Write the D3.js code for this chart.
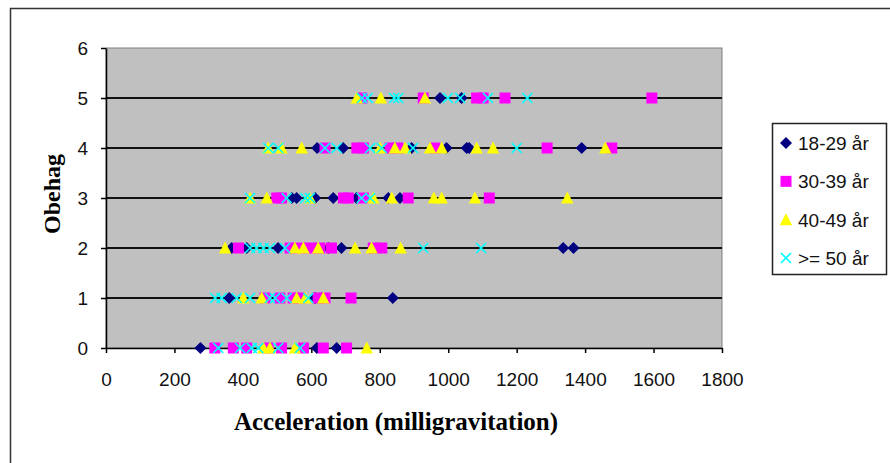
<!DOCTYPE html>
<html><head><meta charset="utf-8">
<script src="https://cdn.jsdelivr.net/npm/d3@7"></script>
<style>body{margin:0;background:#fff}svg{display:block}</style>
</head><body><svg id="c" width="890" height="463"></svg>
<script>
// Data: acceleration (milligravitation) values per discomfort level (Obehag 0..5)
const seriesNames = ["18-29 år", "30-39 år", "40-49 år", ">= 50 år"];
const xTicks = [0, 200, 400, 600, 800, 1000, 1200, 1400, 1600, 1800];
const yTicks = [0, 1, 2, 3, 4, 5, 6];
const age1829 = [
  [5, [976, 1039]],
  [4, [617, 693, 893, 995, 1054, 1061, 1390]],
  [3, [543, 557, 611, 664, 732, 825, 859]],
  [2, [367, 411, 503, 650, 688, 1336, 1366]],
  [1, [360, 611, 838]],
  [0, [276, 616, 674]]
];
const age3039 = [
  [5, [748, 927, 1083, 1102, 1166, 1595]],
  [4, [640, 733, 752, 830, 853, 961, 1289, 1478]],
  [3, [499, 513, 694, 708, 752, 883, 1120]],
  [2, [387, 538, 567, 596, 625, 659, 781, 806]],
  [1, [465, 508, 547, 567, 620, 640, 716]],
  [0, [318, 372, 411, 474, 513, 577, 635, 703]]
];
const age4049 = [
  [5, [733, 803, 932]],
  [4, [474, 513, 572, 801, 844, 874, 947, 981, 1083, 1131, 1459]],
  [3, [421, 470, 596, 781, 835, 958, 981, 1078, 1348]],
  [2, [348, 552, 577, 620, 728, 776, 861]],
  [1, [401, 455, 557, 582, 635]],
  [0, [460, 479, 552, 762]]
];
const age50 = [
  [5, [748, 765, 842, 854, 999, 1035, 1116, 1231]],
  [4, [474, 503, 640, 674, 772, 806, 897, 1200]],
  [3, [421, 528, 582, 596, 747, 772]],
  [2, [421, 440, 460, 479, 523, 927, 1096]],
  [1, [319, 338, 382, 421, 479, 494, 528, 591]],
  [0, [328, 392, 426, 445, 503, 567]]
];

const svg = d3.select("#c");
const x = d3.scaleLinear().domain([0, 1800]).range([106, 722]);
const y = d3.scaleLinear().domain([0, 6]).range([348, 48]);
const colors = ["#000080", "#ff00ff", "#ffff00", "#00ffff"];
const shapes = ["diamond", "square", "triangle", "cross"];

// outer chart border (left/top visible)
svg.append("path").attr("d", "M10.5,470 V8.5 H900").attr("fill", "none").attr("stroke", "#333").attr("stroke-width", 1.5);

// plot area
svg.append("rect").attr("x", x(0)).attr("y", y(6)).attr("width", x(1800) - x(0)).attr("height", y(0) - y(6))
  .attr("fill", "#c0c0c0").attr("stroke", "#808080").attr("stroke-width", 1);

// gridlines
svg.append("g").selectAll("line").data(yTicks.filter(d => d > 0 && d < 6)).join("line")
  .attr("x1", x(0)).attr("x2", x(1800)).attr("y1", d => y(d)).attr("y2", d => y(d))
  .attr("stroke", "#111").attr("stroke-width", 2);

// axes
const font = "'Liberation Sans', Arial, sans-serif";
const gx = svg.append("g").attr("transform", `translate(0,${y(0)})`)
  .call(d3.axisBottom(x).tickValues(xTicks).tickFormat(d3.format("d")).tickSize(5).tickPadding(20).tickSizeOuter(0));
const gy = svg.append("g").attr("transform", `translate(${x(0)},0)`)
  .call(d3.axisLeft(y).tickValues(yTicks).tickFormat(d3.format("d")).tickSize(5).tickPadding(13).tickSizeOuter(0));
[gx, gy].forEach(g => {
  g.select(".domain").attr("stroke", "#000").attr("stroke-width", 1.5);
  g.selectAll(".tick line").attr("stroke", "#000").attr("stroke-width", 1.5);
  g.selectAll(".tick text").attr("font-family", font).attr("font-size", 19).attr("fill", "#111");
});

function shapePath(s) {
  if (s === "diamond") return "M0,-6L6,0L0,6L-6,0Z";
  if (s === "square") return "M-5.5,-5.5H5.5V5.5H-5.5Z";
  if (s === "triangle") return "M0,-6.5L6.2,5.5L-6.2,5.5Z";
  return "M-5,-5L5,5M5,-5L-5,5";
}
function drawMarker(g, s, c) {
  const p = g.append("path").attr("d", shapePath(s));
  if (s === "cross") p.attr("fill", "none").attr("stroke", c).attr("stroke-width", 1.7);
  else p.attr("fill", c);
}

const allSeries = [age1829, age3039, age4049, age50];
allSeries.forEach((ser, i) => {
  const pts = [];
  ser.forEach(([lvl, vals]) => vals.forEach(v => pts.push({ v, lvl })));
  const g = svg.append("g");
  pts.forEach(p => {
    const m = g.append("g").attr("transform", `translate(${x(p.v)},${y(p.lvl)})`);
    drawMarker(m, shapes[i], colors[i]);
  });
});

// axis titles
svg.append("text").attr("x", 396).attr("y", 430).attr("text-anchor", "middle")
  .attr("font-family", "'Liberation Serif', 'Times New Roman', serif").attr("font-weight", "bold")
  .attr("font-size", 25).attr("fill", "#000").text("Acceleration (milligravitation)");
svg.append("text").attr("transform", "translate(60,194) rotate(-90)").attr("text-anchor", "middle")
  .attr("font-family", "'Liberation Serif', 'Times New Roman', serif").attr("font-weight", "bold")
  .attr("font-size", 24).attr("fill", "#000").text("Obehag");

// legend
const lg = svg.append("g");
lg.append("rect").attr("x", 772.5).attr("y", 123.5).attr("width", 114).attr("height", 151)
  .attr("fill", "#fff").attr("stroke", "#222").attr("stroke-width", 1.5);
const legendY = d3.scalePoint().domain(seriesNames).range([143, 258]);
seriesNames.forEach((n, i) => {
  const m = lg.append("g").attr("transform", `translate(786,${legendY(n)})`);
  drawMarker(m, shapes[i], colors[i]);
  lg.append("text").attr("x", 798).attr("y", legendY(n)).attr("dy", "0.36em")
    .attr("font-family", font).attr("font-size", 19).attr("fill", "#111").text(n);
});
</script></body></html>
